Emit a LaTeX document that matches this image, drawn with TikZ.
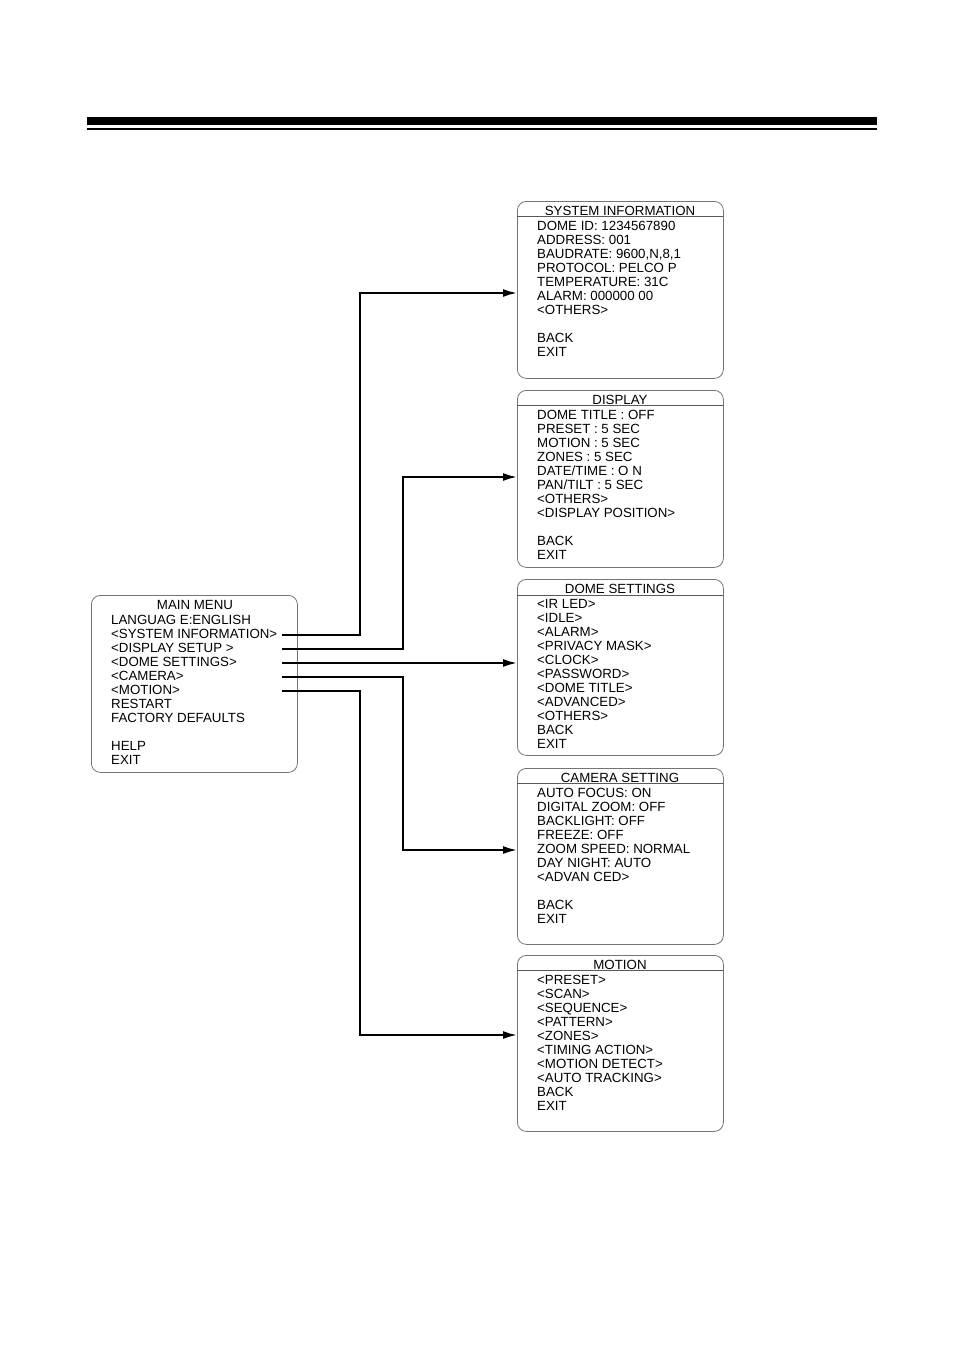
\documentclass[tikz,border=0pt]{standalone}
\usepackage{fontspec}
\setmainfont{Liberation Sans}
\usetikzlibrary{positioning,arrows.meta}

\begin{document}
\begin{tikzpicture}
  [x=1pt,y=-1pt,
   menubox/.style={draw=black!55, line width=0.8pt, rounded corners=9pt, minimum width=206pt, inner sep=0pt, anchor=north west},
   sepline/.style={draw=black!65, line width=0.8pt},
   title/.style={anchor=base, inner sep=0pt, yshift=-1pt, font=\fontsize{13.3}{14}\selectfont},
   item/.style={anchor=base west, inner sep=0pt, yshift=-1pt, font=\fontsize{13.3}{14}\selectfont},
   link/.style={line width=2pt, -{Latex[length=14pt,width=8pt]}}]
  \useasboundingbox (0,0) rectangle (954,1350);

  % header bars
  \fill (87,117) rectangle (877,125);
  \draw[line width=1.3pt] (87,129) -- (877,129);

  % main menu
  \node[menubox, minimum height=177pt] (mainbox) at (91,595) {};
  \node[title] (maint) at (195,608.5) {MAIN MENU};
  \foreach \t [count=\i] in {LANGUAG E:ENGLISH, <SYSTEM INFORMATION>, <DISPLAY SETUP >,
      <DOME SETTINGS>, <CAMERA>, <MOTION>, RESTART, FACTORY DEFAULTS, {}, HELP, EXIT}
    \node[item] (main\i) at (111,{623.5+14*(\i-1)}) {\t};

  % system information
  \node[menubox, minimum height=177pt] (sysbox) at (517,201) {};
  \draw[sepline] (517,216) -- (723,216);
  \node[title] (syst) at (620,214.5) {SYSTEM INFORMATION};
  \foreach \t [count=\i] in {DOME ID: 1234567890, ADDRESS: 001, {BAUDRATE: 9600,N,8,1},
      PROTOCOL: PELCO P, TEMPERATURE: 31C, ALARM: 000000 00, <OTHERS>, {}, BACK, EXIT}
    \node[item] (sys\i) at (537,{229.5+14*(\i-1)}) {\t};

  % display
  \node[menubox, minimum height=177pt] (dispbox) at (517,390) {};
  \draw[sepline] (517,405) -- (723,405);
  \node[title] (dispt) at (620,403.5) {DISPLAY};
  \foreach \t [count=\i] in {DOME TITLE : OFF, PRESET : 5 SEC, MOTION : 5 SEC, ZONES : 5 SEC,
      DATE/TIME : O N, PAN/TILT : 5 SEC, <OTHERS>, <DISPLAY POSITION>, {}, BACK, EXIT}
    \node[item] (disp\i) at (537,{418.5+14*(\i-1)}) {\t};

  % dome settings
  \node[menubox, minimum height=176pt] (domebox) at (517,579) {};
  \draw[sepline] (517,595) -- (723,595);
  \node[title] (domet) at (620,592.5) {DOME SETTINGS};
  \foreach \t [count=\i] in {<IR LED>, <IDLE>, <ALARM>, <PRIVACY MASK>, <CLOCK>, <PASSWORD>,
      <DOME TITLE>, <ADVANCED>, <OTHERS>, BACK, EXIT}
    \node[item] (dome\i) at (537,{607.5+14*(\i-1)}) {\t};

  % camera setting
  \node[menubox, minimum height=176pt] (cambox) at (517,768) {};
  \draw[sepline] (517,783) -- (723,783);
  \node[title] (camt) at (620,781.5) {CAMERA SETTING};
  \foreach \t [count=\i] in {AUTO FOCUS: ON, DIGITAL ZOOM: OFF, BACKLIGHT: OFF, FREEZE: OFF,
      ZOOM SPEED: NORMAL, DAY NIGHT: AUTO, <ADVAN CED>, {}, BACK, EXIT}
    \node[item] (cam\i) at (537,{796.5+14*(\i-1)}) {\t};

  % motion
  \node[menubox, minimum height=176pt] (motbox) at (517,955) {};
  \draw[sepline] (517,970) -- (723,970);
  \node[title] (mott) at (620,968.5) {MOTION};
  \foreach \t [count=\i] in {<PRESET>, <SCAN>, <SEQUENCE>, <PATTERN>, <ZONES>, <TIMING ACTION>,
      <MOTION DETECT>, <AUTO TRACKING>, BACK, EXIT}
    \node[item] (mot\i) at (537,{983.5+14*(\i-1)}) {\t};

  % connectors
  \coordinate (laneA) at (360,0);
  \coordinate (laneB) at (403,0);
  \coordinate (outsys) at (282,635);
  \coordinate (outdisp) at (282,649);
  \coordinate (outdome) at (282,663);
  \coordinate (outcam) at (282,677);
  \coordinate (outmot) at (282,691);
  \coordinate (insys) at (517,293);
  \coordinate (indisp) at (517,477);
  \coordinate (indome) at (517,663);
  \coordinate (incam) at (517,850);
  \coordinate (inmot) at (517,1035);

  \draw[link] (outsys) -| (laneA |- insys) -- (insys);
  \draw[link] (outdisp) -| (laneB |- indisp) -- (indisp);
  \draw[link] (outdome) -- (indome);
  \draw[link] (outcam) -| (laneB |- incam) -- (incam);
  \draw[link] (outmot) -| (laneA |- inmot) -- (inmot);
\end{tikzpicture}
\end{document}
